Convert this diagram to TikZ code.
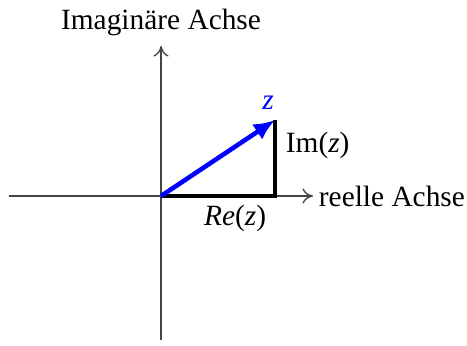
\documentclass[tikz,border=0pt]{standalone}
\usepackage{fontspec}
\setmainfont{Liberation Serif}
\usetikzlibrary{arrows.meta,positioning,calc}
\definecolor{axisC}{HTML}{444444}
\definecolor{vecC}{HTML}{0000FF}
\tikzset{>={To[length=1.4mm,width=2.0mm]},
  axis/.style={->,axisC,line width=0.5pt},
  part/.style={black,line width=1.2pt},
  zvec/.style={-{Latex[length=2.8mm,width=2.4mm]},vecC,line width=1.7pt},
  axlab/.style={inner sep=2pt,font=\fontsize{11pt}{13pt}\selectfont},
  plab/.style={font=\fontsize{11pt}{13pt}\selectfont}}
\begin{document}
\begin{tikzpicture}[x=0.5cm,y=0.5cm]
\useasboundingbox (-4.237,-3.92) rectangle (8.05,5.158);
\coordinate (O) at (0,0);
\coordinate (xl) at (-4,0);\coordinate (xr) at (4,0);
\coordinate (yb) at (0,-3.8);\coordinate (yt) at (0,3.95);
\coordinate (Z) at (3,2);\coordinate (R) at (3,0);
\draw[axis] (xl) -- (xr);
\draw[axis] (yb) -- (yt);
\node[axlab,anchor=west] (xname) at (xr) {reelle Achse};
\node[axlab,anchor=south] (yname) at ($(yt)+(0,0.1)$) {Imaginäre Achse};
\draw[part] (O) -- (R) -- (Z);
\draw[zvec] (O) -- (Z);
\node[plab,text=vecC] (zlab) at (2.82,2.45) {\textit{z}};
\node[plab,anchor=west,inner sep=1pt] (imlab) at (3.2,1.32) {Im(\textit{z})};
\node[plab] (relab) at (1.95,-0.6) {\textit{Re}(\textit{z})};
\end{tikzpicture}
\end{document}
